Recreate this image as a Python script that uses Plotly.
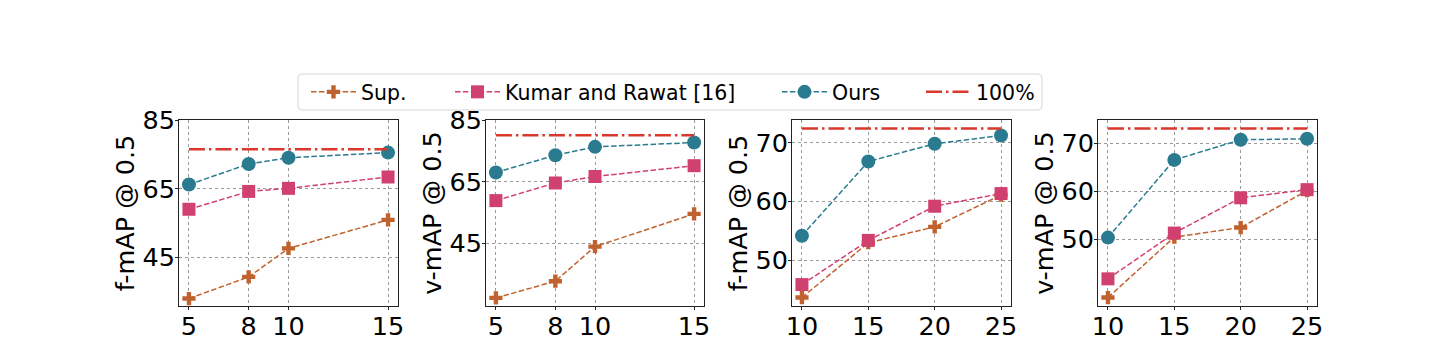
import plotly.graph_objects as go

# ---- data ----
x_small = [5, 8, 10, 15]
x_large = [10, 15, 20, 25]

p1_sup = [33.0, 39.3, 47.6, 55.9]
p1_kumar = [59.0, 64.2, 65.1, 68.4]
p1_ours = [66.2, 72.2, 74.0, 75.5]
p1_full = 76.45

p2_sup = [27.4, 32.8, 44.0, 54.6]
p2_kumar = [58.9, 64.6, 66.7, 70.2]
p2_ours = [68.0, 73.6, 76.3, 77.7]
p2_full = 80.05

p3_sup = [43.7, 53.0, 55.7, 61.1]
p3_kumar = [45.9, 53.4, 59.2, 61.35]
p3_ours = [54.2, 66.8, 69.8, 71.2]
p3_full = 72.4

p4_sup = [37.8, 50.4, 52.4, 60.1]
p4_kumar = [41.7, 51.25, 58.6, 60.3]
p4_ours = [50.3, 66.5, 70.7, 70.9]
p4_full = 73.06

titles = ["f-mAP @ 0.5", "v-mAP @ 0.5", "f-mAP @ 0.5", "v-mAP @ 0.5"]
yticks_a = [45, 65, 85]
yticks_b = [50, 60, 70]
series_names = ["Sup.", "Kumar and Rawat [16]", "Ours", "100%"]

# ---- style ----
C_SUP = "#c0622f"
C_KUM = "#d1416f"
C_OURS = "#2a7b90"
C_FULL = "#d9382b"
FONT = "DejaVu Sans"
W, H = 1441, 354

panels = [
    (x_small, p1_sup, p1_kumar, p1_ours, p1_full, yticks_a, 85),
    (x_small, p2_sup, p2_kumar, p2_ours, p2_full, yticks_a, 85),
    (x_large, p3_sup, p3_kumar, p3_ours, p3_full, yticks_b, None),
    (x_large, p4_sup, p4_kumar, p4_ours, p4_full, yticks_b, None),
]
x_px = [(179, 398), (486, 704), (792, 1011), (1098, 1317)]
y_dom = [48 / H, 234 / H]

fig = go.Figure()
legend_ids = ["legend", "legend2", "legend3", "legend4"]

for i, (xs, sup, kum, ours, full, yt, ytop) in enumerate(panels):
    ax = "" if i == 0 else str(i + 1)
    xa, ya = "x" + ax, "y" + ax
    show = i == 0
    dash = "5.5px,2.4px"
    fig.add_trace(go.Scatter(x=xs, y=sup, mode="lines+markers", name=series_names[0],
                             line=dict(color=C_SUP, width=1.5, dash=dash),
                             marker=dict(symbol="cross", size=11, color=C_SUP),
                             xaxis=xa, yaxis=ya, showlegend=show, legend=legend_ids[0]))
    fig.add_trace(go.Scatter(x=xs, y=kum, mode="lines+markers", name=series_names[1],
                             line=dict(color=C_KUM, width=1.5, dash=dash),
                             marker=dict(symbol="square", size=13, color=C_KUM),
                             xaxis=xa, yaxis=ya, showlegend=show, legend=legend_ids[1]))
    fig.add_trace(go.Scatter(x=xs, y=ours, mode="lines+markers", name=series_names[2],
                             line=dict(color=C_OURS, width=1.5, dash=dash),
                             marker=dict(symbol="circle", size=14, color=C_OURS),
                             xaxis=xa, yaxis=ya, showlegend=show, legend=legend_ids[2]))
    fig.add_trace(go.Scatter(x=[xs[0], xs[-1]], y=[full, full], mode="lines", name=series_names[3],
                             line=dict(color=C_FULL, width=2.5, dash="16px,4px,2.5px,4px"),
                             xaxis=xa, yaxis=ya, showlegend=show, legend=legend_ids[3]))

    allv = sup + kum + ours + [full]
    lo, hi = min(allv), max(allv)
    pad = 0.05 * (hi - lo)
    yr = [lo - pad, ytop if ytop is not None else hi + pad]
    xpad = 0.05 * (xs[-1] - xs[0])
    xr = [xs[0] - xpad, xs[-1] + xpad]

    common = dict(showline=True, mirror=True, linecolor="#222", linewidth=1,
                  ticks="outside", ticklen=3, tickcolor="#222", automargin=False,
                  showgrid=True, gridcolor="#9a9a9a", griddash="dot", gridwidth=0.8,
                  zeroline=False, tickfont=dict(family=FONT, size=25.5, color="black"))
    fig.update_layout(**{
        "xaxis" + ax: dict(domain=[x_px[i][0] / W, x_px[i][1] / W], anchor=ya,
                           range=xr, tickvals=xs, ticklabelstandoff=-6, **common),
        "yaxis" + ax: dict(domain=y_dom, anchor=xa, range=yr, tickvals=yt,
                           ticklabelstandoff=-5,
                           title=dict(text=titles[i], font=dict(family=FONT, size=25.5, color="black"),
                                      standoff=0),
                           **common),
    })

# legends: one per series, inside one framed box
leg_x = [306, 450, 777, 921]
leg_common = dict(orientation="h", yanchor="middle", y=(H - 92) / H, xanchor="left",
                  bgcolor="rgba(0,0,0,0)", borderwidth=0, itemwidth=45,
                  font=dict(family=FONT, size=20.5, color="black"))
fig.update_layout(**{lid: dict(x=leg_x[k] / W, **leg_common) for k, lid in enumerate(legend_ids)})

x0, x1 = 298 / W, 1042 / W
y0, y1 = (H - 110) / H, (H - 74) / H
rx, ry = 4 / W, 4 / H
path = (f"M{x0+rx},{y0} L{x1-rx},{y0} Q{x1},{y0} {x1},{y0+ry} L{x1},{y1-ry} Q{x1},{y1} {x1-rx},{y1} "
        f"L{x0+rx},{y1} Q{x0},{y1} {x0},{y1-ry} L{x0},{y0+ry} Q{x0},{y0} {x0+rx},{y0} Z")
fig.add_shape(type="path", path=path, xref="paper", yref="paper",
              line=dict(color="#d6d6d6", width=1), fillcolor="white", layer="above")

fig.update_layout(width=W, height=H, margin=dict(l=0, r=0, t=0, b=0),
                  paper_bgcolor="white", plot_bgcolor="white",
                  font=dict(family=FONT, color="black"))

fig.write_html("out.html")
